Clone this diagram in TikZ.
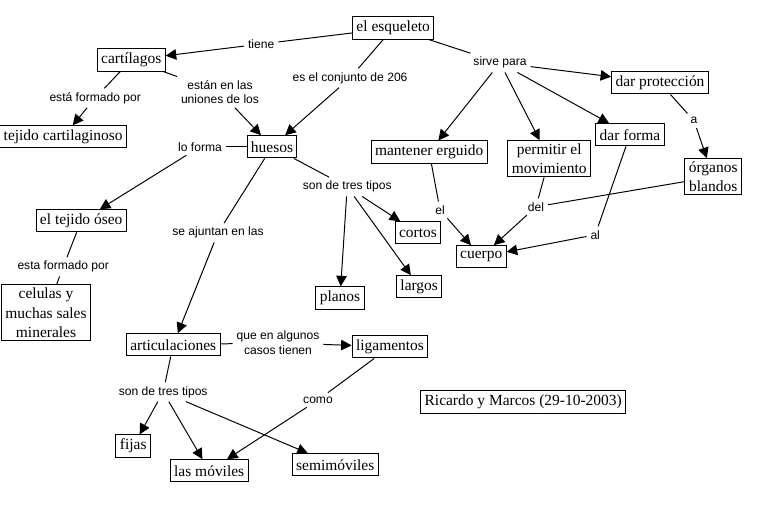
\documentclass[tikz,border=0pt]{standalone}
\usepackage{fontspec}
\setmainfont{Liberation Serif}
\newfontfamily\linkfont{Liberation Sans}
\usetikzlibrary{arrows.meta}

\begin{document}
\begin{tikzpicture}[line width=0.7pt, >={Triangle[length=7.5pt,width=7.5pt]},
	concept/.style={draw, inner xsep=2.8pt, inner ysep=2pt, minimum height=15.8pt, align=center, font=\fontsize{11}{14}\selectfont},
	link/.style={inner sep=2.5pt, align=center, font=\linkfont\fontsize{8.6}{10.5}\selectfont}]

	\useasboundingbox (0,0) rectangle (19.525,13.05);

	\node [concept] (esq) at (9.83,12.35) {el esqueleto};
	\node [concept] (cart) at (3.28,11.55) {cartílagos};
	\node [concept] (tcart) at (1.58,9.63) {tejido cartilaginoso};
	\node [concept] (hue) at (6.80,9.38) {huesos};
	\node [concept] (toseo) at (2.03,7.53) {el tejido óseo};
	\node [concept] (cel) at (1.15,5.23) {celulas y\\muchas sales\\minerales};
	\node [concept] (art) at (4.33,4.43) {articulaciones};
	\node [concept] (lig) at (9.75,4.38) {ligamentos};
	\node [concept] (fij) at (3.33,1.90) {fijas};
	\node [concept] (mov) at (5.23,1.28) {las móviles};
	\node [concept] (semi) at (8.38,1.43) {semimóviles};
	\node [concept] (plan) at (8.50,5.60) {planos};
	\node [concept] (larg) at (10.48,5.88) {largos};
	\node [concept] (cort) at (10.45,7.23) {cortos};
	\node [concept] (cuer) at (12.03,6.63) {cuerpo};
	\node [concept] (mant) at (10.73,9.25) {mantener erguido};
	\node [concept] (perm) at (13.73,9.08) {permitir el\\movimiento};
	\node [concept] (dforma) at (15.75,9.68) {dar forma};
	\node [concept] (dprot) at (16.50,10.98) {dar protección};
	\node [concept] (org) at (17.83,8.63) {órganos\\blandos};
	\node [concept] (ric) at (13.08,3.00) {Ricardo y Marcos (29-10-2003)};

	\node [link] (tiene) at (6.53,11.95) {tiene};
	\node [link] (form1) at (2.38,10.60) {está formado por};
	\node [link] (union) at (5.50,10.75) {están en las\\uniones de los};
	\node [link] (conj) at (8.75,11.10) {es el conjunto de 206};
	\node [link] (sirve) at (12.50,11.48) {sirve para};
	\node [link] (a) at (17.35,10.03) {a};
	\node [link] (lofor) at (5.00,9.38) {lo forma};
	\node [link] (tipos1) at (8.68,8.38) {son de tres tipos};
	\node [link] (ajun) at (5.45,7.23) {se ajuntan en las};
	\node [link] (el) at (11.00,7.80) {el};
	\node [link] (del) at (13.40,7.88) {del};
	\node [link] (al) at (14.88,7.18) {al};
	\node [link] (form2) at (1.58,6.38) {esta formado por};
	\node [link] (casos) at (6.95,4.48) {que en algunos\\casos tienen};
	\node [link] (tipos2) at (4.08,3.25) {son de tres tipos};
	\node [link] (como) at (7.95,3.05) {como};

	\draw (esq) -- (tiene);
	\draw [->] (tiene) -- (cart);
	\draw (esq) -- (conj);
	\draw [->] (conj) -- (hue);
	\draw (esq) -- (sirve);
	\draw [->] (sirve) -- (dprot);
	\draw [->] (sirve) -- (mant);
	\draw [->] (sirve) -- (perm);
	\draw [->] (sirve) -- (dforma);

	\draw (cart) -- (form1);
	\draw [->] (form1) -- (tcart);
	\draw (cart) -- (union);
	\draw [->] (union) -- (hue);

	\draw (hue) -- (lofor);
	\draw [->] (lofor) -- (toseo);
	\draw (toseo) -- (form2);
	\draw (form2) -- (cel);
	\draw (hue) -- (tipos1);
	\draw [->] (tipos1) -- (cort);
	\draw [->] (tipos1) -- (larg);
	\draw [->] (tipos1) -- (plan);
	\draw (hue) -- (ajun);
	\draw [->] (ajun) -- (art);

	\draw (dprot) -- (a);
	\draw [->] (a) -- (org);
	\draw (mant) -- (el);
	\draw [->] (el) -- (cuer);
	\draw (perm) -- (del);
	\draw (org) -- (del);
	\draw [->] (del) -- (cuer);
	\draw (dforma) -- (al);
	\draw [->] (al) -- (cuer);

	\draw (art) -- (casos);
	\draw [->] (casos) -- (lig);
	\draw (art) -- (tipos2);
	\draw [->] (tipos2) -- (fij);
	\draw [->] (tipos2) -- (mov);
	\draw [->] (tipos2) -- (semi);
	\draw (lig) -- (como);
	\draw [->] (como) -- (mov);

\end{tikzpicture}
\end{document}
